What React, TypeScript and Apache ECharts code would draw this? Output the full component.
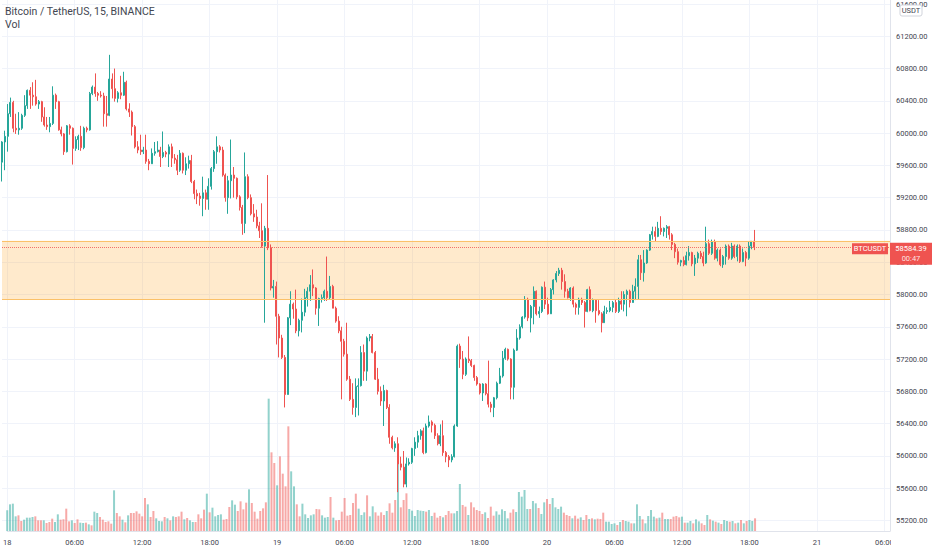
import React, { useEffect, useRef } from "react";
import * as echarts from "echarts";

const SYMBOL_TITLE = "Bitcoin / TetherUS, 15, BINANCE";
const VOLUME_TITLE = "Vol";
const QUOTE = "USDT";
const TICKER = "BTCUSDT";
const COUNTDOWN = "00:47";
const FIRST_DAY = 18;
const SLOT_MINUTES = 15;
const SLOT_COUNT = 315;
const ZONE_TOP = 58665;
const ZONE_BOTTOM = 57937;
const PRICE_MIN = 55200;
const PRICE_MAX = 61600;
const PRICE_STEP = 400;
const VOLUME_MAX = 15930;

const UP = "#26a69a";
const DOWN = "#ef5350";
const TEXT = "#434651";

// [open, close, low, high]
const candles: number[][] = [
  [59640,59890,59400,59900],[59890,59960,59540,60030],[59960,60240,59770,60360],[60240,60380,60200,60440],
  [60380,60060,60010,60400],[60060,60040,59990,60240],[60040,60060,59980,60260],[60060,60220,60040,60240],
  [60220,60340,60200,60470],[60340,60530,60300,60540],[60530,60470,60300,60570],[60470,60450,60340,60630],
  [60450,60360,60340,60660],[60360,60390,60300,60410],[60390,60200,60140,60400],[60200,60100,60080,60320],
  [60100,60080,60040,60200],[60080,60120,60010,60200],[60120,60470,60100,60580],[60470,60390,60300,60490],
  [60390,60040,60030,60400],[60040,59990,59960,60080],[59990,59770,59730,60000],[59770,60090,59760,60100],
  [60090,60060,59980,60110],[60060,59810,59610,60070],[59810,59920,59780,59960],[59920,59960,59790,59980],
  [59960,59820,59780,60090],[59820,60060,59800,60080],[60060,60040,60010,60080],[60040,60490,60030,60510],
  [60490,60570,60470,60590],[60570,60490,60450,60740],[60490,60470,60400,60510],[60470,60460,60440,60520],
  [60460,60240,60080,60500],[60240,60220,60080,60460],[60220,60670,60210,60970],[60670,60550,60430,60740],
  [60550,60430,60390,60800],[60430,60500,60380,60520],[60500,60470,60420,60710],[60470,60630,60460,60760],
  [60630,60300,60280,60650],[60300,60260,60200,60370],[60260,60080,59970,60280],[60080,59830,59810,60100],
  [59830,59790,59750,59900],[59790,59770,59730,59980],[59770,59790,59740,59830],[59790,59650,59620,59980],
  [59650,59620,59540,59680],[59620,59750,59620,59810],[59750,59770,59720,59890],[59770,59790,59760,59900],
  [59790,59710,59580,59830],[59710,59760,59690,60020],[59760,59740,59700,59780],[59740,59830,59580,59860],
  [59830,59690,59580,59870],[59690,59670,59620,59740],[59670,59540,59480,59730],
  [59540,59750,59520,59790],[59750,59540,59500,59760],[59540,59620,59480,59700],[59620,59660,59560,59720],
  [59660,59400,59380,59730],[59400,59250,59180,59420],[59250,59220,59120,59300],[59220,59190,59100,59260],
  [59190,59260,58970,59460],[59260,59180,59050,59300],[59180,59340,59050,59440],[59340,59560,59300,59580],
  [59560,59770,59520,59790],[59770,59830,59620,59960],[59830,59790,59760,59850],[59790,59480,59460,59830],
  [59480,59200,59150,59500],[59200,59410,59000,59470],[59410,59480,59190,59920],[59480,59440,59200,59580],
  [59440,59210,59180,59450],[59210,59080,59040,59230],[59080,58880,58740,59110],[58880,59460,58760,59760],
  [59460,59200,59180,59490],[59200,59000,58980,59240],[59000,58960,58900,59120],[58960,58850,58820,59050],
  [58850,58790,58700,58900],[58790,58600,58580,59130],[58600,58820,57650,58850],[58820,58580,58550,59480],
  [58580,58080,58050,58620],[58080,58100,57960,58180],[58100,57730,57380,58160],[57730,57460,57220,57760],
  [57460,57220,57200,57500],[57220,56760,56600,57250],[56760,57710,56760,57720],[57710,57880,57620,58040],
  [57880,57820,57700,57900],[57820,57550,57520,58060],[57550,57680,57480,57700],
  [57680,57780,57530,57950],[57780,57960,57730,58070],[57960,58040,57850,58090],[58040,58120,57920,58240],
  [58120,58080,57980,58310],[58080,57830,57750,58090],[57830,57950,57610,57960],[57950,57960,57900,58000],
  [57960,58040,57920,58060],[58040,57960,57920,58470],[57960,58100,57940,58230],[58100,57830,57830,58120],
  [57830,57670,57650,57850],[57670,57550,57520,57730],[57550,57420,56700,57600],[57420,57260,57230,57450],
  [57260,56950,56930,57650],[56950,56700,56680,56990],[56700,56600,56510,56900],[56600,56860,56480,56960],
  [56860,56870,56500,56960],[56870,57280,56860,57360],[57280,57050,56930,57380],[57050,57460,56930,57480],
  [57460,57480,57420,57510],[57480,57280,57270,57510],[57280,56950,56940,57300],[56950,56800,56760,57090],
  [56800,56680,56620,56860],[56680,56810,56370,56880],[56810,56600,56580,56820],[56600,56230,56150,56640],
  [56230,56100,56080,56250],[56100,56150,56050,56180],[56150,55900,55550,56230],[55900,55860,55820,55990],
  [55860,55650,55610,56060],[55650,55900,55610,55980],[55900,55920,55880,55970],[55920,56090,55900,56100],
  [56090,56170,56000,56230],[56170,56250,56100,56310],[56250,56310,56200,56330],
  [56310,56040,56020,56350],[56040,56370,56030,56400],[56370,56420,56350,56500],[56420,56380,56290,56440],
  [56380,56250,56210,56400],[56250,56150,56130,56280],[56150,56250,56120,56390],[56250,56040,56000,56440],
  [56040,55990,55920,56060],[55990,55950,55860,56010],[55950,55990,55920,56020],[55990,56370,55980,56390],
  [56370,57360,56360,57380],[57360,57200,57090,57390],[57200,57010,56950,57300],[57010,57200,56990,57220],
  [57200,57180,57150,57480],[57180,57120,57100,57200],[57120,56970,56930,57130],[56970,56890,56870,56990],
  [56890,56780,56760,56900],[56780,56890,56680,56900],[56890,56770,56750,56900],[56770,56640,56600,57180],
  [56640,56600,56540,56670],[56600,56720,56480,56730],[56720,56900,56700,56920],[56900,56990,56890,57090],
  [56990,57210,56970,57300],[57210,57320,57190,57340],[57320,57200,57180,57330],[57200,56850,56700,57210],
  [56850,57310,56700,57330],[57310,57460,57300,57570],[57460,57600,57440,57630],[57600,57720,57580,57730],
  [57720,57940,57700,57980],[57940,57710,57670,57960],[57710,57850,57530,57870],
  [57850,58040,57630,58100],[58040,57760,57740,58050],[57760,57790,57710,57850],[57790,58090,57770,58100],
  [58090,57880,57820,58160],[57880,57760,57750,57960],[57760,58060,57760,58080],[58060,58180,58000,58190],
  [58180,58260,58150,58290],[58260,58300,58230,58330],[58300,58160,58060,58330],[58160,58040,57960,58250],
  [58040,57960,57950,58070],[57960,58080,57920,58090],[58080,57880,57840,58100],[57880,57840,57750,57900],
  [57840,57940,57750,57960],[57940,57900,57870,57960],[57900,57790,57590,57920],[57790,58060,57780,58070],
  [58060,57800,57790,58100],[57800,57930,57780,57950],[57930,57800,57650,57940],[57800,57760,57740,57930],
  [57760,57650,57530,57780],[57650,57790,57650,57860],[57790,57800,57760,57840],[57800,57840,57780,57920],
  [57840,57900,57780,57920],[57900,57790,57770,57940],[57790,57920,57770,57960],[57920,57880,57810,58040],
  [57880,58000,57790,58040],[58000,58040,57730,58060],[58040,57900,57840,58060],[57900,58040,57900,58120],
  [58040,58100,57930,58200],[58100,58430,57940,58490],[58430,58270,58180,58490],
  [58270,58390,58160,58550],[58390,58550,58380,58560],[58550,58740,58540,58750],[58740,58780,58680,58840],
  [58780,58720,58660,58840],[58720,58820,58710,58900],[58820,58780,58740,58970],[58780,58820,58720,58830],
  [58820,58840,58700,58860],[58840,58740,58680,58850],[58740,58620,58550,58760],[58620,58530,58450,58640],
  [58530,58400,58370,58570],[58400,58420,58350,58430],[58420,58370,58350,58470],[58370,58480,58360,58530],
  [58480,58520,58420,58600],[58520,58380,58350,58530],[58380,58450,58230,58490],[58450,58510,58390,58530],
  [58510,58470,58440,58540],[58470,58390,58350,58530],[58390,58630,58380,58840],[58630,58510,58490,58680],
  [58510,58650,58490,58680],[58650,58450,58430,58680],[58450,58550,58410,58570],[58550,58370,58350,58570],
  [58370,58470,58330,58490],[58470,58600,58370,58620],[58600,58450,58430,58620],[58450,58600,58430,58640],
  [58600,58470,58450,58620],[58470,58600,58410,58620],[58600,58410,58390,58620],[58410,58520,58400,58570],
  [58520,58450,58350,58540],[58450,58600,58430,58660],[58600,58660,58560,58660],[58660,58584.39,58550,58800],
];

const volumes: number[] = [
  620,800,820,440,470,300,340,400,400,420,440,320,320,320,240,270,370,270,500,340,
  350,670,290,320,240,350,250,240,250,200,170,580,540,420,340,270,290,220,1220,540,
  440,340,260,470,540,540,590,520,440,990,800,420,600,380,300,290,420,380,320,440,
  420,440,580,350,390,320,270,270,500,380,640,1120,560,700,440,480,500,340,360,720,
  920,790,600,890,650,850,1250,840,580,370,600,680,860,3970,2360,2040,1370,2240,1720,1340,
  3140,1790,1340,800,440,820,500,390,470,500,660,650,470,400,420,1020,400,320,330,580,
  990,460,480,840,1120,670,480,560,1070,440,740,560,460,560,
  480,600,830,550,930,2050,710,930,1130,660,610,450,630,610,600,580,630,450,550,400,
  450,410,480,600,530,530,600,1410,780,730,480,860,710,630,600,510,560,390,730,460,
  590,490,650,600,380,550,650,570,1170,1030,1230,660,660,900,830,690,510,860,960,810,
  990,710,660,730,550,480,450,380,460,370,410,330,480,360,380,350,370,360,550,280,
  280,210,230,180,270,330,300,280,230,230,800,450,350,230,450,630,430,380,400,550,
  360,360,360,430,450,410,430,250,250,300,230,350,290,230,180,480,350,310,280,250,
  210,330,300,280,300,230,250,330,230,300,330,300,380,
];

const LAST = candles[candles.length - 1][1];

const pad = (n: number) => (n < 10 ? "0" + n : String(n));
const categories: string[] = Array.from({ length: SLOT_COUNT }, (_, k) => {
  const m = k * SLOT_MINUTES;
  const d = FIRST_DAY + Math.floor(m / 1440);
  const hh = Math.floor((m % 1440) / 60);
  const mm = m % 60;
  return `${d} ${pad(hh)}:${pad(mm)}`;
});

const GRID_LEFT = 2;
const GRID_RIGHT = 42;
const W = 932;
const H = 550;

export default function App() {
  const ref = useRef<HTMLDivElement>(null);
  useEffect(() => {
    if (!ref.current) return;
    const chart = echarts.init(ref.current, null, { renderer: "svg" });
    const candleData = candles.map(([o, c, l, h]) => [o, c, Math.min(l, o, c), Math.max(h, o, c)]);
    const volumeData = volumes.map((v, i) => {
      const c = candles[i];
      const up = c ? c[1] >= c[0] : true;
      return { value: v, itemStyle: { color: up ? "rgba(38,166,154,0.5)" : "rgba(239,83,80,0.5)" } };
    });
    const showTick = (idx: number) => idx % 24 === 0;
    chart.setOption({
      animation: false,
      backgroundColor: "#ffffff",
      textStyle: { fontFamily: "Roboto, sans-serif" },
      grid: [
        { left: GRID_LEFT, right: GRID_RIGHT, top: 2.1, bottom: 29.6 },
        { left: GRID_LEFT, right: GRID_RIGHT, top: 0, bottom: 19 },
      ],
      xAxis: [
        { type: "category", gridIndex: 0, data: categories, boundaryGap: false, show: false },
        {
          type: "category",
          gridIndex: 1,
          data: categories,
          boundaryGap: false,
          axisLine: { lineStyle: { color: "#e0e3eb" } },
          axisTick: { show: false },
          axisLabel: {
            interval: (idx: number) => showTick(idx),
            formatter: (val: string) => {
              const [d, t] = val.split(" ");
              return t === "00:00" ? d : t;
            },
            color: TEXT,
            fontSize: 7.5,
            margin: 7,
          },
          splitLine: { show: true, interval: (idx: number) => showTick(idx), lineStyle: { color: "#f0f3fa", width: 1 } },
        },
      ],
      yAxis: [
        {
          type: "value",
          gridIndex: 0,
          position: "right",
          min: PRICE_MIN,
          max: PRICE_MAX,
          interval: PRICE_STEP,
          axisLine: { show: false },
          axisTick: { show: false },
          axisLabel: { formatter: (v: number) => v.toFixed(2), color: TEXT, fontSize: 7.5, margin: 6 },
          splitLine: { lineStyle: { color: "#f0f3fa" } },
        },
        {
          type: "value",
          gridIndex: 1,
          position: "right",
          min: 0,
          max: VOLUME_MAX,
          axisLine: { show: true, lineStyle: { color: "#e0e3eb" } },
          axisTick: { show: false },
          axisLabel: { show: false },
          splitLine: { show: false },
        },
      ],
      series: [
        {
          type: "bar",
          xAxisIndex: 1,
          yAxisIndex: 1,
          data: volumeData,
          barWidth: 2,
          z: 1,
          silent: true,
        },
        {
          type: "candlestick",
          xAxisIndex: 0,
          yAxisIndex: 0,
          data: candleData,
          barWidth: 1.5,
          clip: false,
          z: 3,
          silent: true,
          itemStyle: { color: UP, color0: DOWN, borderColor: UP, borderColor0: DOWN, borderWidth: 1 },
          markArea: {
            silent: true,
            z: 1,
            itemStyle: { color: "rgba(255,152,0,0.2)" },
            data: [[{ yAxis: ZONE_TOP }, { yAxis: ZONE_BOTTOM }]],
          },
          markLine: {
            silent: true,
            symbol: ["none", "none"],
            label: { show: false },
            data: [
              { yAxis: ZONE_TOP, lineStyle: { color: "#fbc169", type: "solid", width: 1 } },
              { yAxis: ZONE_BOTTOM, lineStyle: { color: "#fbc169", type: "solid", width: 1 } },
              { yAxis: LAST, lineStyle: { color: "#ef5350", type: "dotted", width: 1, opacity: 0.8 } },
            ],
          },
        },
      ],
    });

    const y = chart.convertToPixel({ yAxisIndex: 0 }, LAST) as number;
    const axisX = W - GRID_RIGHT;
    chart.setOption({
      graphic: [
        { type: "text", left: 5, top: 6, z: 100, style: { text: SYMBOL_TITLE, fill: TEXT, font: "10.5px Roboto" } },
        { type: "text", left: 5, top: 19, z: 100, style: { text: VOLUME_TITLE, fill: TEXT, font: "10.5px Roboto" } },
        { type: "rect", z: 100, shape: { x: axisX + 1, y: 532, width: W - axisX, height: 18 }, style: { fill: "#ffffff" } },
        { type: "rect", z: 100, shape: { x: axisX + 10, y: 5, width: 22, height: 11, r: 2 }, style: { fill: "#ffffff", stroke: "#d1d4dc", lineWidth: 1 } },
        { type: "text", z: 101, x: axisX + 21, y: 10.5, style: { text: QUOTE, fill: TEXT, font: "7.5px Roboto", align: "center", verticalAlign: "middle" } },
        { type: "rect", z: 100, shape: { x: axisX - 38, y: y - 4, width: 36, height: 11 }, style: { fill: DOWN } },
        { type: "text", z: 101, x: axisX - 20, y: y + 1.5, style: { text: TICKER, fill: "#ffffff", font: "7.5px Roboto", align: "center", verticalAlign: "middle" } },
        { type: "rect", z: 100, shape: { x: axisX, y: y - 4.5, width: W - axisX, height: 22 }, style: { fill: DOWN } },
        { type: "text", z: 101, x: axisX + 21, y: y + 1.5, style: { text: LAST.toFixed(2), fill: "#ffffff", font: "7.5px Roboto", align: "center", verticalAlign: "middle" } },
        { type: "text", z: 101, x: axisX + 21, y: y + 11.5, style: { text: COUNTDOWN, fill: "rgba(255,255,255,0.85)", font: "7.5px Roboto", align: "center", verticalAlign: "middle" } },
      ],
    });
    return () => chart.dispose();
  }, []);
  return <div ref={ref} style={{ width: W, height: H, position: "absolute", left: 0, top: 0 }} />;
}
